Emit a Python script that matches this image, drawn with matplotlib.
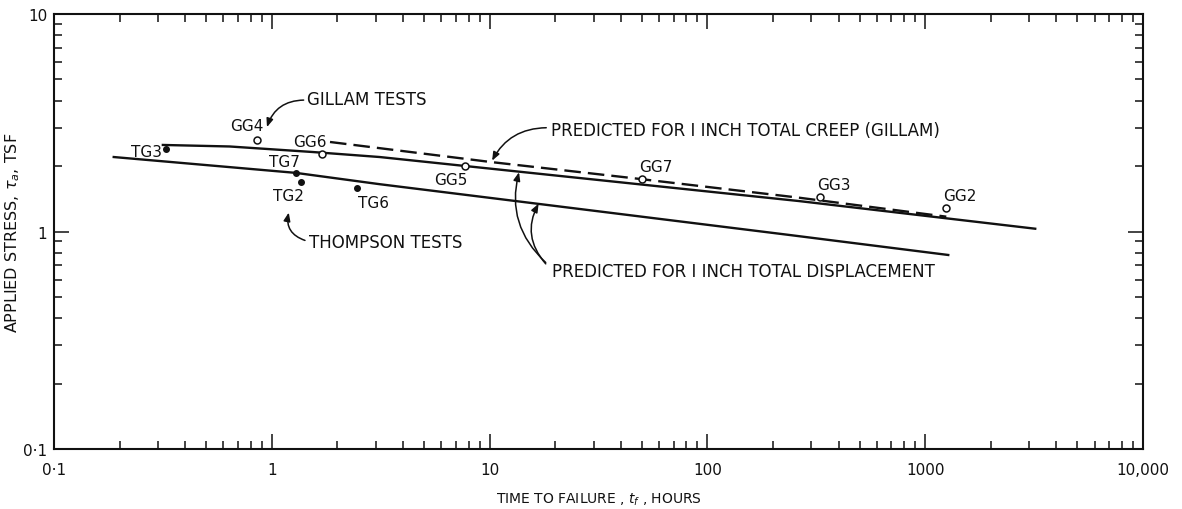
import matplotlib
matplotlib.use("Agg")
import matplotlib.pyplot as plt
from matplotlib.ticker import LogLocator, NullFormatter

plt.rcParams["font.family"] = ["DejaVu Sans"]
INK = "#111111"

# --- test results (time to failure in hours, applied stress in TSF) ---
thompson_names = ["TG3", "TG7", "TG2", "TG6"]
thompson_t = [0.327, 1.29, 1.36, 2.45]
thompson_s = [2.39, 1.86, 1.69, 1.58]

gillam_names = ["GG4", "GG6", "GG5", "GG7", "GG3", "GG2"]
gillam_t = [0.853, 1.70, 7.68, 50.3, 330, 1250]
gillam_s = [2.64, 2.27, 2.00, 1.74, 1.44, 1.28]

# --- predicted curves ---
disp_gillam_t = [0.316, 0.64, 1.54, 3.13, 264, 3200]
disp_gillam_s = [2.50, 2.46, 2.32, 2.20, 1.38, 1.03]

creep_gillam_t = [1.85, 10.0, 45.3, 264, 1250]
creep_gillam_s = [2.58, 2.09, 1.76, 1.43, 1.17]

disp_thompson_t = [0.188, 1.29, 3.13, 238, 1276]
disp_thompson_s = [2.20, 1.86, 1.65, 0.964, 0.78]

xtick_vals = [0.1, 1, 10, 100, 1000, 10000]
xtick_labels = ["0·1", "1", "10", "100", "1000", "10,000"]
ytick_vals = [0.1, 1, 10]
ytick_labels = ["0·1", "1", "10"]

# label offsets (points) for each test point
thompson_offsets = [(-3, -1.5, "right"), (-8, 8, "center"), (-9, -10, "center"), (12, -10, "center")]
gillam_offsets = [(-7, 10, "center"), (-9, 9, "center"), (-10, -9.5, "center"),
                  (9.5, 9, "center"), (10, 9, "center"), (10, 9, "center")]

fig = plt.figure(figsize=(11.82, 5.10), dpi=100)
ax = fig.add_axes([0.0457, 0.1176, 0.9213, 0.853])
ax.set_xscale("log")
ax.set_yscale("log")
ax.set_xlim(0.1, 10000)
ax.set_ylim(0.1, 10)

# curves
ax.plot(disp_gillam_t, disp_gillam_s, color=INK, lw=1.7, zorder=3)
ax.plot(disp_thompson_t, disp_thompson_s, color=INK, lw=1.7, zorder=3)
ax.plot(creep_gillam_t, creep_gillam_s, color=INK, lw=1.7, ls=(0, (7, 3)), zorder=3)

# points
ax.plot(thompson_t, thompson_s, "o", ms=4, color=INK, zorder=4)
ax.plot(gillam_t, gillam_s, "o", ms=5, mfc="white", mec=INK, mew=1.1, zorder=4)

for name, t, s, (dx, dy, ha) in zip(thompson_names, thompson_t, thompson_s, thompson_offsets):
    ax.annotate(name, (t, s), xytext=(dx, dy), textcoords="offset points",
                ha=ha, va="center", fontsize=11, color=INK)
for name, t, s, (dx, dy, ha) in zip(gillam_names, gillam_t, gillam_s, gillam_offsets):
    ax.annotate(name, (t, s), xytext=(dx, dy), textcoords="offset points",
                ha=ha, va="center", fontsize=11, color=INK)

# callouts: text, then a curved arrow from the text's left end
arrow = dict(arrowstyle="-|>,head_length=0.5,head_width=0.2", color=INK, lw=1.1,
             shrinkA=0, shrinkB=1)


def callout(text, xytext, start, target, rad, shrinkB=1):
    if text:
        ax.text(*xytext, text, ha="left", va="center", fontsize=12, color=INK)
    ax.annotate("", xy=target, xytext=start,
                arrowprops=dict(arrow, shrinkB=shrinkB,
                                connectionstyle=f"arc3,rad={rad}"))


callout("GILLAM TESTS", (1.45, 4.06), (1.40, 4.02), (0.95, 3.02), 0.35, shrinkB=0)
callout("THOMPSON TESTS", (1.48, 0.895), (1.42, 0.91), (1.20, 1.24), -0.45)
callout("PREDICTED FOR I INCH TOTAL CREEP (GILLAM)", (19.2, 2.93), (18.2, 3.0), (10.2, 2.09), 0.3)
callout("PREDICTED FOR I INCH TOTAL DISPLACEMENT", (19.4, 0.658), (18.1, 0.72), (13.7, 1.90), -0.3)
callout(None, None, (18.1, 0.71), (16.9, 1.36), -0.35)

# axes styling
ax.set_xticks(xtick_vals, xtick_labels)
ax.set_yticks(ytick_vals, ytick_labels)
ax.xaxis.set_minor_locator(LogLocator(base=10, subs=range(2, 10)))
ax.yaxis.set_minor_locator(LogLocator(base=10, subs=range(2, 10)))
ax.xaxis.set_minor_formatter(NullFormatter())
ax.yaxis.set_minor_formatter(NullFormatter())
ax.tick_params(which="both", direction="in", top=True, right=True, colors=INK, width=1.1)
ax.tick_params(which="major", length=11, labelsize=11)
ax.tick_params(axis="x", which="major", pad=9)
ax.tick_params(axis="y", which="major", pad=5)
ax.tick_params(which="minor", length=6)
for sp in ax.spines.values():
    sp.set_linewidth(1.5)
    sp.set_color(INK)

ax.set_xlabel("TIME TO FAILURE , $t_f$ , HOURS", fontsize=10, color=INK, labelpad=10)
ax.set_ylabel(r"APPLIED STRESS, $\tau_a$, TSF", fontsize=11.5, color=INK, labelpad=1)

fig.savefig("out.png", dpi=100)
